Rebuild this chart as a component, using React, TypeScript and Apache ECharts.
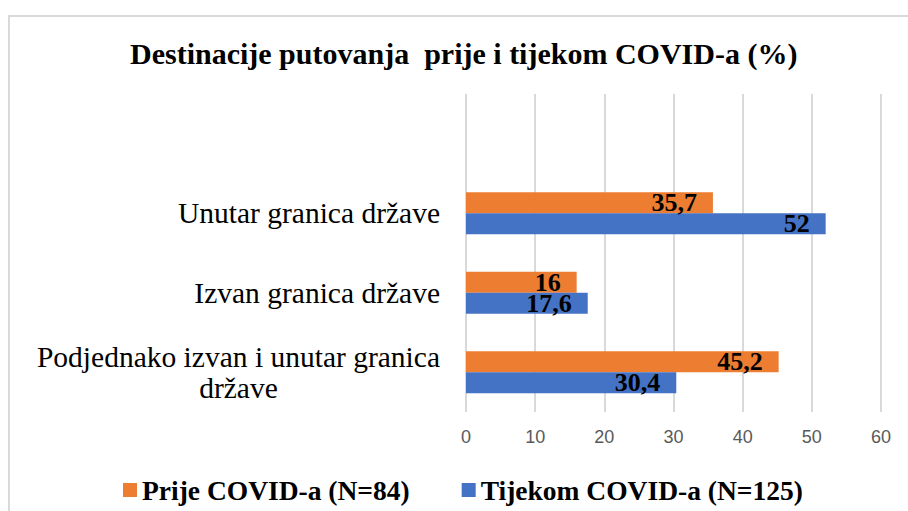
import React, { useEffect, useRef } from "react";
import * as echarts from "echarts";

const titleText = "Destinacije putovanja  prije i tijekom COVID-a (%)";
const categories = [
  "",
  "Unutar granica države",
  "Izvan granica države",
  "Podjednako izvan i unutar granica\ndržave",
];
const seriesNames = ["Prije COVID-a (N=84)", "Tijekom COVID-a (N=125)"];
const prijeValues = [35.7, 16, 45.2];
const tijekomValues = [52, 17.6, 30.4];
const xTicks = { min: 0, max: 60, interval: 10 };

const SERIF = "Liberation Serif";
const SANS = "Liberation Sans";

export default function App() {
  const ref = useRef<HTMLDivElement>(null);
  useEffect(() => {
    if (!ref.current) return;
    const chart = echarts.init(ref.current, null, { renderer: "svg" });
    const label = {
      show: true,
      position: "insideRight",
      distance: 16,
      color: "#000",
      fontFamily: SERIF,
      fontWeight: "bold",
      fontSize: 26,
      lineHeight: 20,
      formatter: (p: any) => String(p.value).replace(".", ","),
    };
    chart.setOption({
      animation: false,
      backgroundColor: "#fff",
      title: {
        text: titleText,
        left: 125,
        top: 33,
        textStyle: { fontFamily: SERIF, fontWeight: "bold", fontSize: 30, color: "#000" },
      },
      legend: {
        data: seriesNames,
        left: 118,
        top: 471,
        icon: "rect",
        itemWidth: 14,
        itemHeight: 14,
        itemGap: 52,
        textStyle: { fontFamily: SERIF, fontWeight: "bold", fontSize: 27.5, color: "#000" },
      },
      grid: { left: 466, right: 27, top: 94, bottom: 99, containLabel: false },
      xAxis: {
        type: "value",
        min: xTicks.min,
        max: xTicks.max,
        interval: xTicks.interval,
        axisLine: { show: false },
        axisTick: { show: false },
        axisLabel: { fontFamily: SANS, fontSize: 18, color: "#595959", margin: 16 },
        splitLine: { show: true, lineStyle: { color: "#d9d9d9", width: 2 } },
      },
      yAxis: {
        type: "category",
        inverse: true,
        data: categories,
        axisLine: { show: false },
        axisTick: { show: false },
        axisLabel: {
          margin: 26,
          fontFamily: SERIF,
          fontSize: 29.5,
          color: "#000",
          lineHeight: 31,
          formatter: (v: string) => {
            const lines = v.split("\n");
            return lines.map((l, i) => (i === 0 ? `{a|${l}}` : `{c|${l}}`)).join("\n");
          },
          rich: {
            a: { fontFamily: SERIF, fontSize: 29.5, color: "#000", lineHeight: 31 },
            c: { fontFamily: SERIF, fontSize: 29.5, color: "#000", lineHeight: 31, align: "center" },
          },
        },
      },
      series: [
        {
          name: seriesNames[0],
          type: "bar",
          data: [null, ...prijeValues],
          barWidth: 21,
          barGap: "0%",
          itemStyle: { color: "#ED7D31" },
          label,
        },
        {
          name: seriesNames[1],
          type: "bar",
          data: [null, ...tijekomValues],
          barWidth: 21,
          barGap: "0%",
          itemStyle: { color: "#4472C4" },
          label,
        },
      ],
      graphic: [
        {
          type: "rect",
          silent: true,
          shape: { x: 9, y: 16, width: 1000, height: 600 },
          style: { fill: "none", stroke: "#d9d9d9", lineWidth: 2 },
        },
      ],
    });
    return () => chart.dispose();
  }, []);
  return (
    <div
      ref={ref}
      style={{ width: 908, height: 511, position: "fixed", left: 0, top: 0 }}
    />
  );
}
